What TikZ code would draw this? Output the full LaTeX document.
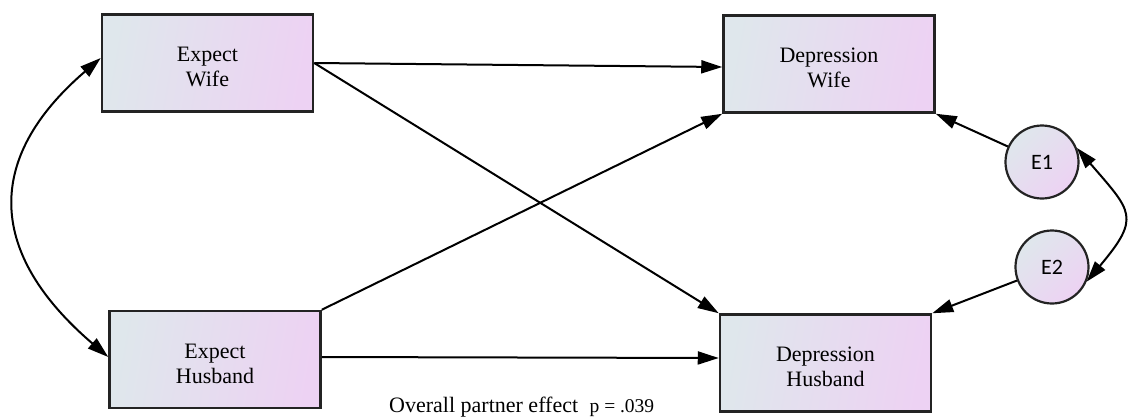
\documentclass[tikz,border=0pt]{standalone}
\usepackage{fontspec}
\setmainfont{Liberation Serif}
\newfontfamily\lblfont{Carlito}
\usetikzlibrary{arrows.meta}
\definecolor{boxL}{RGB}{223,231,236}
\definecolor{boxR}{RGB}{237,210,243}
\definecolor{edgeC}{RGB}{35,35,35}
\newcommand\tstrut{\rule{0pt}{23pt}}
\tikzset{
  varbox/.style={draw=edgeC, line width=2.5pt, rectangle, minimum width=211pt, minimum height=97pt,
    left color=boxL, right color=boxR, shading angle=80, align=center,
    font=\fontsize{22}{25}\selectfont, inner sep=0pt},
  errc/.style={draw=edgeC, line width=2.2pt, circle, minimum size=73pt, inner sep=0pt,
    left color=boxL, right color=boxR, shading angle=45, font=\lblfont\fontsize{22}{24}\selectfont},
  path/.style={line width=2pt, draw=black, -{Triangle[length=21pt,width=13pt]}},
  cov/.style={line width=2pt, draw=black, {Triangle[length=21pt,width=13pt]}-{Triangle[length=21pt,width=13pt]}}
}
\begin{document}
\begin{tikzpicture}[x=1pt,y=-1pt]
\useasboundingbox (0,0) rectangle (1128,416);
\node[varbox] (EW) at (207.5,63) {\tstrut Expect\\Wife};
\node[varbox] (EH) at (215,359.5) {\tstrut Expect\\Husband};
\node[varbox] (DW) at (829,64) {\tstrut Depression\\Wife};
\node[varbox] (DH) at (825.5,363) {\tstrut Depression\\Husband};
\node[errc] (E1) at (1042,162) {E1};
\node[errc] (E2) at (1052,267) {E2};
\draw[path] (EW.east) -- ([yshift=-3pt]DW.west);
\draw[path] (EW.east) -- (DH.north west);
\draw[path] (EH.north east) -- (DW.south west);
\draw[path] ([yshift=2.5pt]EH.east) -- ([yshift=5pt]DH.west);
\draw[path] (E1) -- (DW.south east);
\draw[path] (E2) -- (DH.north east);
\draw[cov] ([yshift=5pt]EW.west) .. controls (-18,160) and (-11,255) .. ([yshift=2.5pt]EH.west);
\draw[cov] (E1.22) .. controls (1132,212) and (1141,217) .. (E2.-23);
\node[anchor=base west, inner sep=0pt] (note) at (389,412) {\fontsize{22}{25}\selectfont Overall partner effect\hspace{6pt} \fontsize{19.5}{22}\selectfont p = .039};
\end{tikzpicture}
\end{document}
